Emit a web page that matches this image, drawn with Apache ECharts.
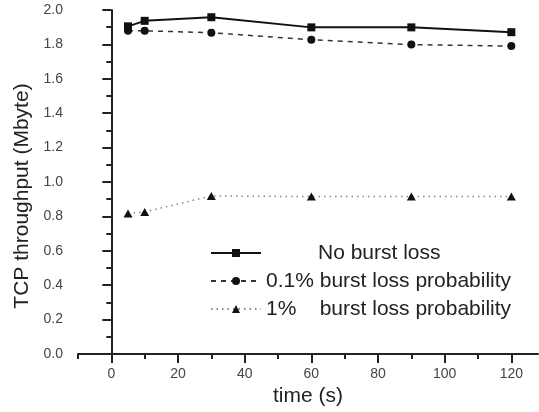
<!DOCTYPE html>
<html>
<head>
<meta charset="utf-8">
<script src="https://cdn.jsdelivr.net/npm/echarts@6/dist/echarts.min.js"></script>
<style>
html,body{margin:0;padding:0;background:#fff;}
#chart{width:539px;height:412px;}
</style>
</head>
<body>
<div id="chart"></div>
<script>
var times = [5, 10, 30, 60, 90, 120];
var noLoss = [1.905, 1.937, 1.958, 1.899, 1.899, 1.871];
var loss01 = [1.879, 1.879, 1.868, 1.827, 1.799, 1.79];
var loss1 = [0.817, 0.826, 0.919, 0.915, 0.915, 0.915];
var seriesNames = ['No burst loss', '0.1% burst loss probability', '1% burst loss probability'];
var xMajorTicks = [0, 20, 40, 60, 80, 100, 120];
var xMinorTicks = [-10, 10, 30, 50, 70, 90, 110];

function pairs(xs, ys) { return xs.map(function (x, i) { return [x, ys[i]]; }); }

var FONT = '"Liberation Sans", Arial, sans-serif';
var chart = echarts.init(document.getElementById('chart'), null, {renderer: 'canvas'});
chart.setOption({
  animation: false,
  backgroundColor: '#ffffff',
  textStyle: {fontFamily: FONT},
  grid: {left: 78, right: 1, top: 10, bottom: 58, containLabel: false},
  legend: {
    left: 205, top: 237, orient: 'vertical', padding: 5,
    itemWidth: 50, itemHeight: 10, itemGap: 6,
    data: seriesNames,
    formatter: function (name) {
      if (name === seriesNames[0]) return '{n|' + name + '}';
      if (name === seriesNames[2]) return '1%    burst loss probability';
      return name;
    },
    textStyle: {fontFamily: FONT, fontSize: 21, color: '#222', lineHeight: 22,
      rich: {n: {fontFamily: FONT, fontSize: 21, color: '#222', padding: [0, 0, 0, 52]}}}
  },
  xAxis: [{
    type: 'value', min: -10, max: 128, position: 'bottom',
    name: 'time (s)', nameLocation: 'middle', nameGap: 30,
    nameTextStyle: {fontFamily: FONT, fontSize: 21, color: '#222'},
    axisLine: {onZero: false, lineStyle: {color: '#222', width: 2}},
    axisTick: {show: true, length: 9, customValues: xMajorTicks, lineStyle: {color: '#222', width: 2}},
    axisLabel: {customValues: xMajorTicks, margin: 13, fontFamily: FONT, fontSize: 14, color: '#444'},
    splitLine: {show: false}
  }, {
    type: 'value', min: -10, max: 128, position: 'bottom',
    axisLine: {show: false, onZero: false},
    axisTick: {show: true, length: 5, customValues: xMinorTicks, lineStyle: {color: '#222', width: 2}},
    axisLabel: {show: false},
    splitLine: {show: false}
  }],
  yAxis: {
    type: 'value', min: 0, max: 2, interval: 0.2,
    name: 'TCP throughput (Mbyte)', nameLocation: 'middle', nameGap: 44,
    nameTextStyle: {fontFamily: FONT, fontSize: 21, color: '#222', padding: [0, 28, 0, 0]},
    axisLine: {show: true, lineStyle: {color: '#222', width: 2}},
    axisTick: {show: true, length: 9, lineStyle: {color: '#222', width: 2}},
    minorTick: {show: true, splitNumber: 2, length: 5, lineStyle: {color: '#222', width: 2}},
    axisLabel: {margin: 15, fontFamily: FONT, fontSize: 14, color: '#444',
      formatter: function (v) { return v.toFixed(1); }},
    splitLine: {show: false}
  },
  series: [{
    name: seriesNames[0], type: 'line', data: pairs(times, noLoss),
    symbol: 'rect', symbolSize: 8,
    lineStyle: {color: '#111', width: 2, type: 'solid'},
    itemStyle: {color: '#111'}
  }, {
    name: seriesNames[1], type: 'line', data: pairs(times, loss01),
    symbol: 'circle', symbolSize: 8,
    lineStyle: {color: '#333', width: 1.5, type: [5, 5]},
    itemStyle: {color: '#111'}
  }, {
    name: seriesNames[2], type: 'line', data: pairs(times, loss1),
    symbol: 'triangle', symbolSize: [9, 8],
    lineStyle: {color: '#888', width: 1.5, type: [1.5, 4]},
    itemStyle: {color: '#111'}
  }]
});
</script>
</body>
</html>
